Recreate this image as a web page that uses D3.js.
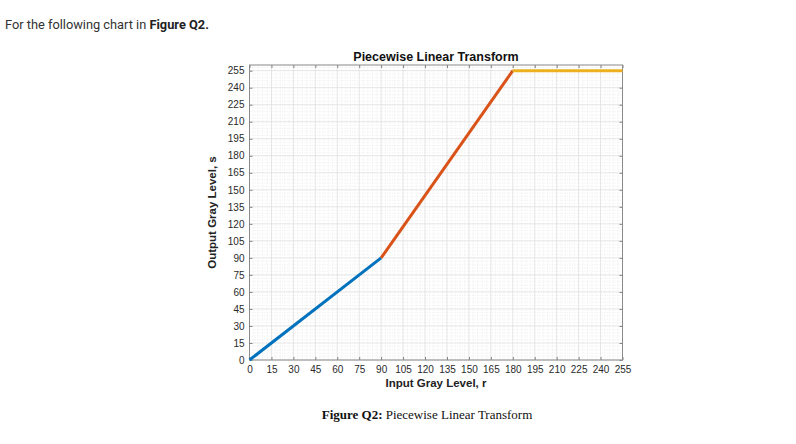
<!DOCTYPE html>
<html>
<head>
<meta charset="utf-8">
<script src="https://cdn.jsdelivr.net/npm/d3@7"></script>
<style>
  body { margin: 0; background: #fff; }
  svg { display: block; }
</style>
</head>
<body>
<svg id="canvas"></svg>
<script>
// the three pieces of the transform, input r -> output s
let segNames = ["low", "mid", "high"]
let segR = [[0, 90], [90, 180], [180, 255]]
let segS = [[0, 90], [90, 255], [255, 255]]
let segColors = ["#0072BD", "#D95319", "#EDB120"]

let xTicks = d3.range(0, 256, 15)
let yTicks = d3.range(0, 256, 15)
let minorStep = 3

let width = 796
let height = 444

let plotLeft = 249.5, plotRight = 622.5, plotTop = 65, plotBottom = 360

let canvas = d3.select("#canvas")
  .attr("width", width)
  .attr("height", height)

let x = d3.scaleLinear().domain([0, 255]).range([plotLeft, plotRight])
let y = d3.scaleLinear().domain([0, 260]).range([plotBottom, plotTop])

// header line
let head = canvas.append("text")
  .attr("x", 5).attr("y", 29)
  .style("font-family", "Roboto, sans-serif")
  .style("font-size", "12.8px")
  .attr("fill", "#333")
head.append("tspan").text("For the following chart in ")
head.append("tspan").style("font-weight", "bold").attr("fill", "#222").text("Figure Q2.")

// minor grid
let minorX = d3.range(0, 256, minorStep).filter(d => d % 15 != 0)
let minorY = d3.range(0, 261, minorStep).filter(d => d % 15 != 0)

canvas.append("g").selectAll("line")
  .data(minorX).enter().append("line")
  .attr("x1", d => x(d)).attr("x2", d => x(d))
  .attr("y1", plotTop).attr("y2", plotBottom)
  .attr("stroke", "#e4e4e4").attr("stroke-width", 0.6)
  .attr("stroke-dasharray", "1,1.5")

canvas.append("g").selectAll("line")
  .data(minorY).enter().append("line")
  .attr("y1", d => y(d)).attr("y2", d => y(d))
  .attr("x1", plotLeft).attr("x2", plotRight)
  .attr("stroke", "#e4e4e4").attr("stroke-width", 0.6)
  .attr("stroke-dasharray", "1,1.5")

// major grid
canvas.append("g").selectAll("line")
  .data(xTicks).enter().append("line")
  .attr("x1", d => x(d)).attr("x2", d => x(d))
  .attr("y1", plotTop).attr("y2", plotBottom)
  .attr("stroke", "#dedede").attr("stroke-width", 0.8)

canvas.append("g").selectAll("line")
  .data(yTicks).enter().append("line")
  .attr("y1", d => y(d)).attr("y2", d => y(d))
  .attr("x1", plotLeft).attr("x2", plotRight)
  .attr("stroke", "#dedede").attr("stroke-width", 0.8)

// axes with inward ticks
let fmt = d3.format("d")
let styleAxis = g => {
  g.select(".domain").remove()
  g.selectAll(".tick line").attr("stroke", "#808080")
  g.selectAll(".tick text")
    .attr("fill", "#2a2a2a")
    .style("font-family", "'Liberation Sans', Arial, sans-serif")
    .style("font-size", "10px")
}

canvas.append("g")
  .attr("transform", `translate(0,${plotBottom})`)
  .call(d3.axisBottom(x).tickValues(xTicks).tickFormat(fmt).tickSizeInner(-3).tickPadding(6))
  .call(styleAxis)

canvas.append("g")
  .attr("transform", `translate(${plotLeft},0)`)
  .call(d3.axisLeft(y).tickValues(yTicks).tickFormat(fmt).tickSizeInner(-3).tickPadding(5))
  .call(styleAxis)

canvas.append("g")
  .attr("transform", `translate(0,${plotTop})`)
  .call(d3.axisTop(x).tickValues(xTicks).tickFormat("").tickSizeInner(-3))
  .call(styleAxis)

canvas.append("g")
  .attr("transform", `translate(${plotRight},0)`)
  .call(d3.axisRight(y).tickValues(yTicks).tickFormat("").tickSizeInner(-3))
  .call(styleAxis)

// box
canvas.append("rect")
  .attr("x", plotLeft).attr("y", plotTop)
  .attr("width", plotRight - plotLeft).attr("height", plotBottom - plotTop)
  .attr("fill", "none").attr("stroke", "#8a8a8a").attr("stroke-width", 1)

// the transform pieces
let line = d3.line().x(d => x(d[0])).y(d => y(d[1]))

canvas.append("g").selectAll("path")
  .data(segNames).enter().append("path")
  .attr("d", (name, i) => line(segR[i].map((r, j) => [r, segS[i][j]])))
  .attr("fill", "none")
  .attr("stroke", (name, i) => segColors[i])
  .attr("stroke-width", 3)
  .attr("stroke-linecap", "butt")

// titles
let sans = "'Liberation Sans', Arial, sans-serif"

canvas.append("text")
  .attr("x", (plotLeft + plotRight) / 2).attr("y", 61)
  .attr("text-anchor", "middle")
  .style("font-family", sans).style("font-size", "12.5px").style("font-weight", "bold")
  .attr("fill", "#111")
  .text("Piecewise Linear Transform")

canvas.append("text")
  .attr("x", (plotLeft + plotRight) / 2).attr("y", 387)
  .attr("text-anchor", "middle")
  .style("font-family", sans).style("font-size", "11.5px").style("font-weight", "bold")
  .attr("fill", "#222")
  .text("Input Gray Level, r")

canvas.append("text")
  .attr("transform", `translate(216,${(plotTop + plotBottom) / 2}) rotate(-90)`)
  .attr("text-anchor", "middle")
  .style("font-family", sans).style("font-size", "11.5px").style("font-weight", "bold")
  .attr("fill", "#222")
  .text("Output Gray Level, s")

// figure caption
let cap = canvas.append("text")
  .attr("x", 427).attr("y", 419)
  .attr("text-anchor", "middle")
  .style("font-family", "'Liberation Serif', 'Times New Roman', serif")
  .style("font-size", "13px")
  .attr("fill", "#111")
cap.append("tspan").style("font-weight", "bold").text("Figure Q2:")
cap.append("tspan").text(" Piecewise Linear Transform")
</script>
</body>
</html>
